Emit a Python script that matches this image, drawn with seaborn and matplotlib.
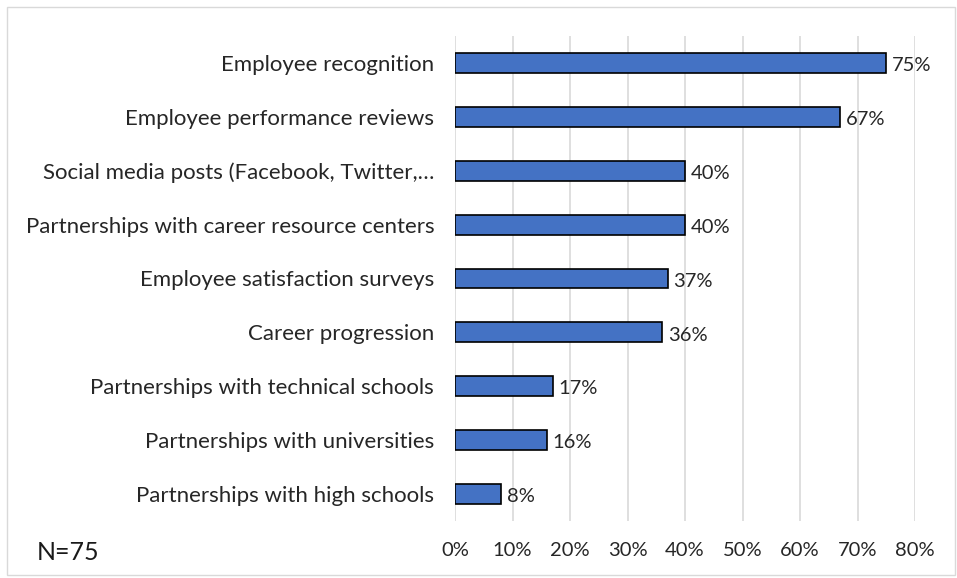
import matplotlib
matplotlib.use("Agg")
import matplotlib.pyplot as plt
import matplotlib.patches as mpatches
import seaborn as sns
import pandas as pd

categories = [
    "Employee recognition",
    "Employee performance reviews",
    "Social media posts (Facebook, Twitter,\u2026",
    "Partnerships with career resource centers",
    "Employee satisfaction surveys",
    "Career progression",
    "Partnerships with technical schools",
    "Partnerships with universities",
    "Partnerships with high schools",
]
values = [75, 67, 40, 40, 37, 36, 17, 16, 8]
x_ticks = [0, 10, 20, 30, 40, 50, 60, 70, 80]
sample_note = "N=75"

df = pd.DataFrame({"category": categories, "value": values})

sns.set_theme(style="white")
plt.rcParams["font.family"] = ["Lato", "DejaVu Sans"]

fig = plt.figure(figsize=(9.57, 5.78), dpi=100)
ax = fig.add_axes([455 / 957, 1 - 521 / 578, 460 / 957, 485 / 578])

sns.barplot(data=df, x="value", y="category", ax=ax, color="#4472C4",
            saturation=1, width=0.37, edgecolor="black", linewidth=1.2)

ax.set_xlim(0, 80)
ax.set_xticks(x_ticks)
ax.set_xticklabels([f"{t}%" for t in x_ticks], fontsize=14.5, color="#262626")
ax.tick_params(axis="x", length=0, pad=15)
ax.tick_params(axis="y", length=0, pad=15, labelsize=16, labelcolor="#262626")
ax.set_xlabel("")
ax.set_ylabel("")
for s in ax.spines.values():
    s.set_visible(False)
ax.grid(axis="x", color="#d9d9d9", linewidth=1.2)
ax.set_axisbelow(True)

for i, v in enumerate(values):
    ax.text(v + 1.0, i + 0.05, f"{v}%", va="center", ha="left", fontsize=14.5, color="#262626")

fig.text(37 / 957, 1 - 552 / 578, sample_note, fontsize=18, ha="left", va="center", color="#1a1a1a")

fig.patches.append(mpatches.Rectangle((7 / 957, 3 / 578), 948 / 957, 568 / 578,
                                      transform=fig.transFigure, fill=False,
                                      edgecolor="#d9d9d9", linewidth=1))

fig.savefig("out.png", dpi=100)
